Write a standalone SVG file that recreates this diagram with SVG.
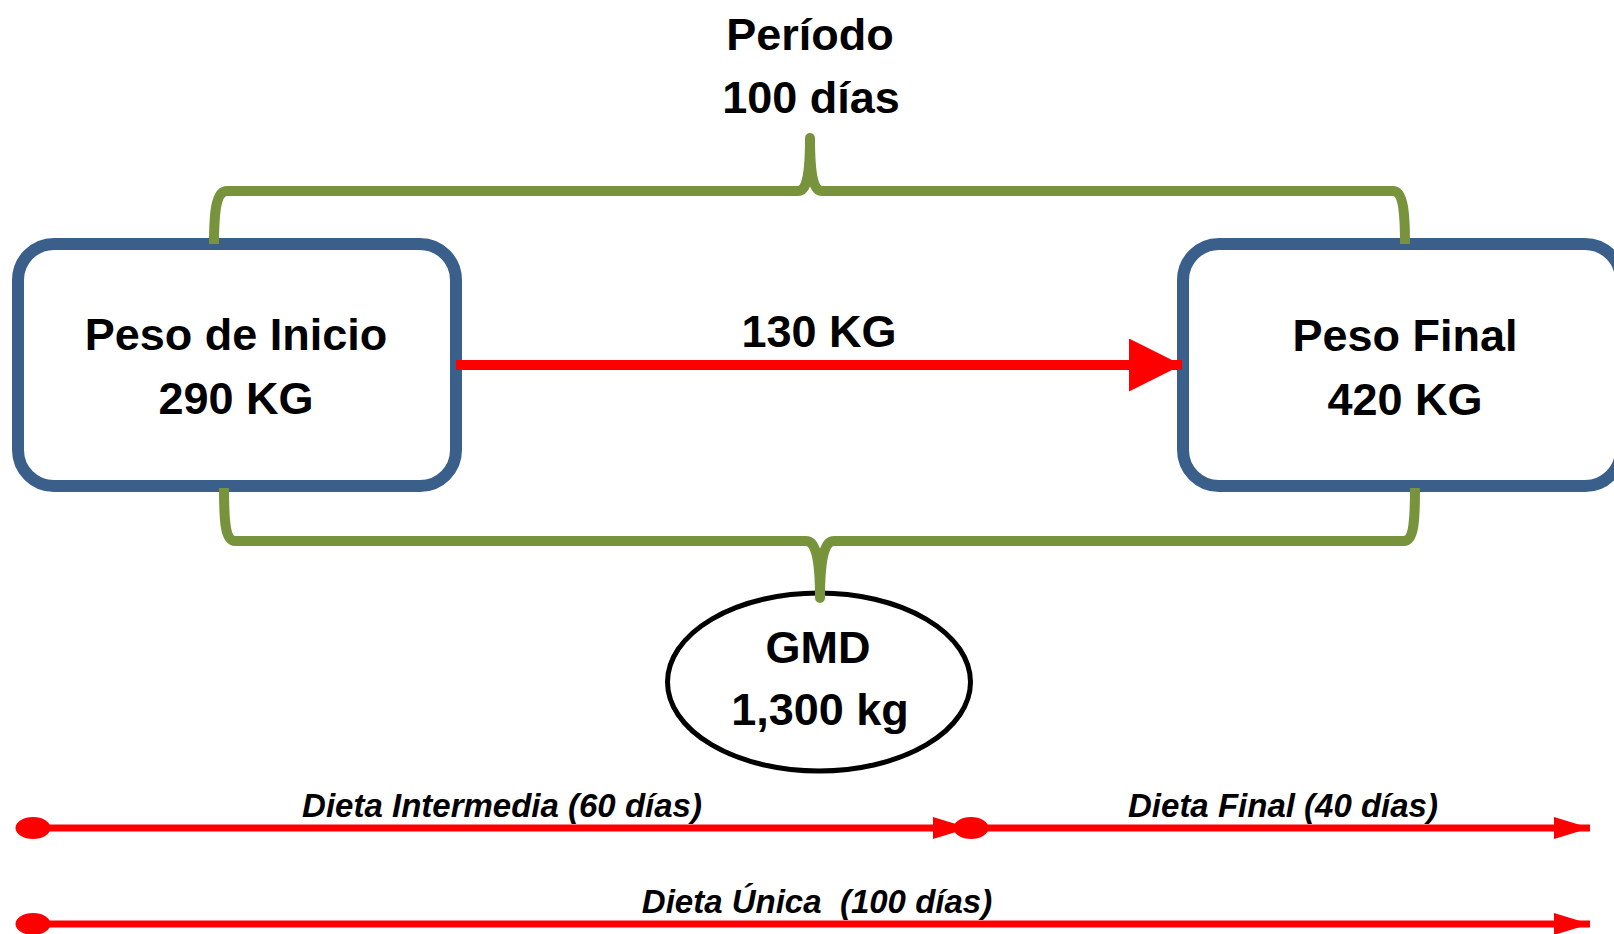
<svg xmlns="http://www.w3.org/2000/svg" width="1614" height="934" viewBox="0 0 1614 934">
<defs>
<style>
.t{font-family:"Liberation Sans",Arial,sans-serif;font-weight:bold;font-size:45px;fill:#000;text-anchor:middle}
.ti{font-family:"Liberation Sans",Arial,sans-serif;font-weight:bold;font-style:italic;font-size:33px;fill:#000;text-anchor:middle}
.box{fill:#fff;stroke:#3A5F8B;stroke-width:12}
.brace{fill:none;stroke:#77933C;stroke-width:10;stroke-linejoin:round;stroke-linecap:butt}
.red{stroke:#FF0000;fill:none}
.dot{fill:#FF0000}
</style>
<marker id="bigHead" markerUnits="userSpaceOnUse" markerWidth="54" markerHeight="54" refX="53" refY="26.5" orient="auto" viewBox="0 0 54 54">
<path d="M0,0 L53,26.5 L0,53 Z" fill="#FF0000"/>
</marker>
<marker id="smallHead" markerUnits="userSpaceOnUse" markerWidth="37" markerHeight="23" refX="36" refY="11" orient="auto" viewBox="0 0 37 23">
<path d="M0,0 L36,11 L0,22 Z" fill="#FF0000"/>
</marker>
</defs>
<rect width="1614" height="934" fill="#fff"/>

<g id="periodo">
<text class="t" x="810" y="50">Período</text>
<text class="t" x="811" y="113">100 días</text>
</g>

<g id="peso-inicio">
<rect class="box" x="18" y="244" width="438" height="242" rx="36" ry="36"/>
<text class="t" x="236" y="350">Peso de Inicio</text>
<text class="t" x="236" y="414">290 KG</text>
</g>

<g id="peso-final">
<rect class="box" x="1183" y="244" width="438" height="242" rx="36" ry="36"/>
<text class="t" x="1405" y="351">Peso Final</text>
<text class="t" x="1405" y="415">420 KG</text>
</g>

<g id="gmd">
<ellipse cx="819" cy="682" rx="151.5" ry="89" fill="#fff" stroke="#000" stroke-width="5"/>
<text class="t" x="818" y="663">GMD</text>
<text class="t" x="820" y="725">1,300 kg</text>
</g>

<g id="connectors">
<path class="brace" d="M214,244 C214,212 216,191 227,191 L798,191 C806,191 810,178 810,138 C810,178 814,191 822,191 L1393,191 C1403,191 1405,212 1405,244"/>
<path class="brace" d="M224,488 C224,520 225,541 235,541 L806,541 C815,541 820,556 820,598 C820,556 825,541 834,541 L1404,541 C1414,541 1415,520 1415,488"/>
<line class="red" x1="456" y1="365" x2="1182" y2="365" stroke-width="10" marker-end="url(#bigHead)"/>
<text class="t" x="819" y="347">130 KG</text>

<line class="red" x1="33" y1="828" x2="969" y2="828" stroke-width="7" marker-end="url(#smallHead)"/>
<ellipse class="dot" cx="33" cy="828" rx="17.5" ry="11"/>
<line class="red" x1="971" y1="828" x2="1590" y2="828" stroke-width="7" marker-end="url(#smallHead)"/>
<ellipse class="dot" cx="971" cy="828" rx="17.5" ry="11"/>
<text class="ti" x="502" y="817">Dieta Intermedia (60 días)</text>
<text class="ti" x="1283" y="817">Dieta Final (40 días)</text>

<line class="red" x1="33" y1="924" x2="1590" y2="924" stroke-width="7" marker-end="url(#smallHead)"/>
<ellipse class="dot" cx="33" cy="924" rx="17.5" ry="11"/>
<text class="ti" x="817" y="913" xml:space="preserve">Dieta Única  (100 días)</text>
</g>
</svg>
